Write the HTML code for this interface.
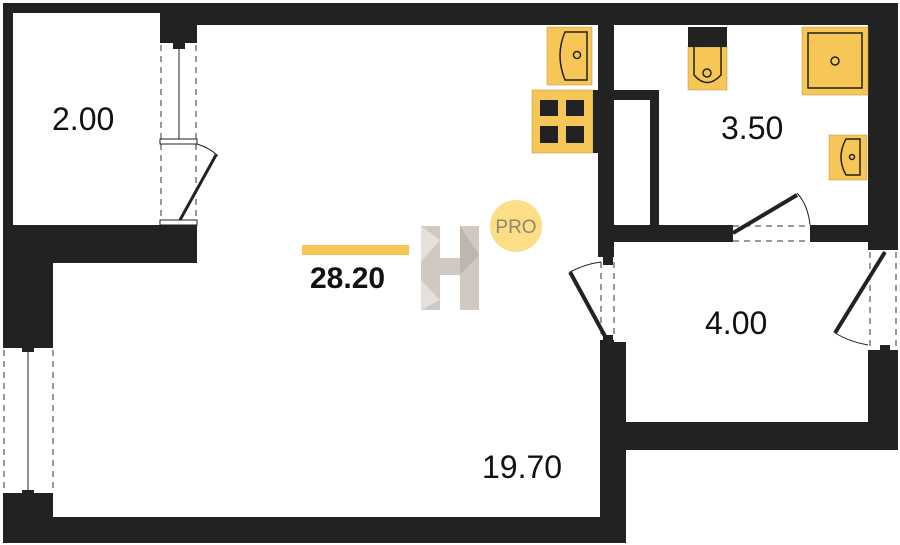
<!DOCTYPE html>
<html><head><meta charset="utf-8"><style>
html,body{margin:0;padding:0;background:#fff;}
svg{display:block;}
text{font-family:"Liberation Sans",sans-serif;}
</style></head><body>
<svg width="900" height="545" viewBox="0 0 900 545" xmlns="http://www.w3.org/2000/svg">
<g fill="#222">
<!-- top walls -->
<rect x="3" y="3" width="160" height="10"/>
<rect x="160" y="3" width="738" height="22"/>
<!-- left room -->
<rect x="3" y="3" width="10" height="260"/>
<rect x="160" y="3" width="37" height="40"/>
<rect x="3" y="225" width="194" height="38"/>
<!-- main left wall -->
<rect x="3" y="263" width="50" height="85"/>
<rect x="3" y="493" width="50" height="50"/>
<!-- bottom -->
<rect x="3" y="517" width="623" height="26"/>
<!-- center divider -->
<rect x="598" y="25" width="16" height="232"/>
<rect x="600" y="342" width="26" height="201"/>
<rect x="600" y="340" width="14" height="10"/>
<!-- niche -->
<rect x="614" y="90" width="45" height="10"/>
<rect x="650" y="90" width="9" height="135"/>
<!-- bathroom bottom wall -->
<rect x="614" y="225" width="116" height="17"/>
<rect x="813" y="225" width="55" height="17"/>
<!-- right wall -->
<rect x="868" y="3" width="30" height="245"/>
<rect x="868" y="350" width="30" height="100"/>
<!-- 4.00 bottom -->
<rect x="600" y="422" width="298" height="28"/>
</g>
<!-- windows -->
<g stroke="#333" stroke-width="1" stroke-dasharray="6,5" fill="none">
<line x1="161" y1="45" x2="161" y2="224"/><line x1="196" y1="45" x2="196" y2="224"/>
<line x1="4" y1="350" x2="4" y2="492"/><line x1="53" y1="350" x2="53" y2="492"/>
<line x1="601" y1="262" x2="601" y2="338"/><line x1="614" y1="262" x2="614" y2="338"/>
<line x1="870" y1="252" x2="870" y2="348"/><line x1="896" y1="252" x2="896" y2="348"/>
<line x1="733" y1="226" x2="810" y2="226"/><line x1="733" y1="241" x2="810" y2="241"/>
</g>
<g stroke="#222" fill="none">
<line x1="179" y1="48" x2="179" y2="140" stroke-width="1"/>
<rect x="160" y="139" width="37" height="5" fill="#fff" stroke-width="1"/>
<rect x="160" y="220" width="37" height="5" fill="#fff" stroke-width="1"/>
<path d="M197 144 Q210 148 218 156" stroke-width="1"/>
<line x1="216" y1="155" x2="180" y2="220" stroke-width="3"/>
<line x1="28" y1="352" x2="28" y2="492" stroke-width="1"/>
<path d="M601 262 Q585 264 570 272" stroke-width="1"/>
<line x1="570" y1="272" x2="606" y2="338" stroke-width="4"/>
<path d="M868 345 Q850 342 835 333" stroke-width="1"/>
<line x1="835" y1="333" x2="885" y2="252" stroke-width="4"/>
<path d="M797 193 Q808 205 810 225" stroke-width="1"/>
<line x1="733" y1="233" x2="797" y2="195" stroke-width="4"/>
</g>
<g fill="#222">
<rect x="173" y="43" width="12" height="6"/>
<rect x="22" y="345" width="12" height="7"/><rect x="22" y="490" width="12" height="7"/>
<rect x="603" y="257" width="10" height="8"/><rect x="603" y="335" width="10" height="8"/>
<rect x="728" y="225" width="5" height="17"/><rect x="810" y="225" width="5" height="17"/>
<rect x="868" y="245" width="30" height="5"/><rect x="880" y="345" width="10" height="7"/>
</g>
<!-- fixtures -->
<g fill="#f6c656" stroke="#b89640" stroke-width="0.5">
<rect x="547" y="27" width="45" height="58"/>
<rect x="532" y="90" width="61" height="63"/>
<rect x="688" y="47" width="39" height="43"/>
<rect x="802" y="27" width="66" height="68"/>
<rect x="829" y="135" width="38" height="45"/>
</g>
<rect x="593" y="90" width="5" height="63" fill="#222"/>
<rect x="688" y="27" width="39" height="20" fill="#222"/>
<g fill="none" stroke="#222" stroke-width="1.5">
<path d="M587 32 L565 32 Q555 55 565 80 L587 80 Z"/>
<circle cx="577" cy="55" r="3.5"/>
<path d="M694 47 L694 75 Q707 90 721 75 L721 47"/>
<circle cx="707" cy="73" r="4"/>
<rect x="808" y="33" width="54" height="55"/>
<circle cx="835" cy="61" r="4"/>
<path d="M860 139 L846 139 Q836 157 846 175 L860 175 Z"/>
<circle cx="852" cy="157" r="2.5"/>
</g>
<g fill="#222">
<rect x="540" y="100" width="18" height="16"/><rect x="566" y="100" width="18" height="16"/>
<rect x="540" y="126" width="18" height="17"/><rect x="566" y="126" width="18" height="17"/>
</g>
<!-- logo -->
<rect x="302" y="245" width="107" height="10" fill="#f6c656"/>
<g fill="#cfc9c2">
<rect x="421" y="226" width="19" height="84"/><rect x="460" y="226" width="19" height="84"/>
<rect x="440" y="258" width="20" height="17"/>
</g>
<polygon points="421,226 440,240 421,262" fill="#e4e0dc"/>
<polygon points="460,226 479,255 460,275" fill="#bdb6ae"/>
<polygon points="421,280 440,300 421,310" fill="#e4e0dc"/>
<circle cx="516" cy="226" r="26" fill="#fbde85"/>
<text x="516" y="233" font-size="19" fill="#8f8674" text-anchor="middle">PRO</text>
<!-- labels -->
<g fill="#111">
<text x="52" y="130" font-size="32">2.00</text>
<text x="721" y="139" font-size="32">3.50</text>
<text x="705" y="334" font-size="32">4.00</text>
<text x="482" y="478" font-size="32">19.70</text>
<text x="310" y="288" font-size="30" font-weight="bold">28.20</text>
</g>
</svg>
</body></html>
